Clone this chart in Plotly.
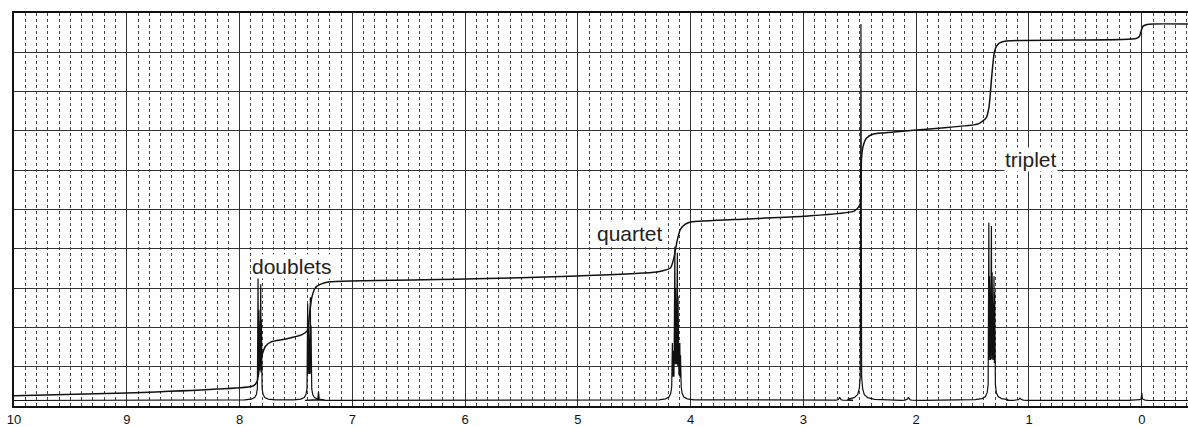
import plotly.graph_objects as go

# ---- spectrum data (chemical shift in ppm, intensity in chart-grid units) ----
baseline = 0.14

# individual resonance lines of each multiplet (ppm, peak height)
doublet_a_ppm = [7.836, 7.830, 7.812, 7.806]
doublet_a_int = [3.33, 2.45, 3.10, 2.20]

doublet_b_ppm = [7.396, 7.390, 7.372, 7.366]
doublet_b_int = [2.60, 2.00, 2.77, 2.05]

aromatic_small_ppm = [7.300]
aromatic_small_int = [0.36]

quartet_ppm = [4.162, 4.156, 4.140, 4.134, 4.118, 4.112, 4.096, 4.090]
quartet_int = [1.60, 1.40, 4.05, 3.00, 3.90, 2.80, 1.60, 1.30]

impurity_ppm = [2.68, 2.07, 1.08]
impurity_int = [0.22, 0.22, 0.20]

singlet_ppm = [2.490]
singlet_int = [9.72]

triplet_ppm = [1.356, 1.350, 1.333, 1.327, 1.310, 1.304]
triplet_int = [4.66, 3.30, 4.58, 3.40, 3.30, 2.90]

tms_ppm = [0.000]
tms_int = [0.33]

# foot height (broad line wings) under each multiplet
foot_doublet_a = 0.30
foot_doublet_b = 0.30
foot_quartet = 0.35
foot_singlet = 0.60
foot_triplet = 0.40
foot_small = 0.04

# ---- running integral trace ----
integral_ppm = [10.0, 9.0, 8.2, 7.88, 7.845, 7.825, 7.80, 7.77, 7.72, 7.6, 7.45,
                7.40, 7.385, 7.36, 7.33, 7.28, 7.2, 6.0, 5.0, 4.3, 4.18, 4.15,
                4.12, 4.09, 4.05, 4.0, 3.5, 3.0, 2.55, 2.50, 2.49, 2.485, 2.47,
                2.44, 2.38, 2.2, 1.8, 1.45, 1.38, 1.355, 1.33, 1.31, 1.29, 1.26,
                1.2, 0.6, 0.05, 0.02, 0.005, -0.01, -0.04, -0.1, -0.41]
integral_val = [0.26, 0.33, 0.43, 0.51, 0.62, 0.95, 1.30, 1.52, 1.63, 1.70, 1.81,
                1.91, 2.20, 2.75, 3.00, 3.10, 3.16, 3.23, 3.31, 3.41, 3.51, 3.75,
                4.20, 4.50, 4.62, 4.68, 4.76, 4.83, 4.96, 5.11, 5.40, 6.30, 6.62,
                6.82, 6.92, 6.97, 7.07, 7.18, 7.33, 7.60, 8.40, 8.95, 9.15, 9.24,
                9.29, 9.31, 9.35, 9.41, 9.55, 9.66, 9.70, 9.72, 9.72]

# axis tick labels
tick_vals = [10, 9, 8, 7, 6, 5, 4, 3, 2, 1, 0]
tick_text = ["10", "9", "8", "7", "6", "5", "4", "3", "2", "1", "0"]

# multiplet labels
label_text = ["doublets", "quartet", "triplet"]
label_ppm = [7.535, 4.54, 0.985]
label_y = [3.56, 4.40, 6.26]

# wing profile of a line: (ppm offset from outer line, fraction of foot height)
WING = [(0.12, 0.05), (0.06, 0.12), (0.03, 0.25), (0.015, 0.5), (0.006, 1.0)]


def multiplet_path(ppm, heights, foot):
    """Vertices of one multiplet drawn as thin spikes standing on broad wings."""
    order = sorted(range(len(ppm)), key=lambda i: -ppm[i])
    p = [ppm[i] for i in order]
    h = [heights[i] for i in order]
    xs, ys = [], []
    for d, f in WING:
        xs.append(p[0] + d)
        ys.append(baseline + f * foot)
    for k in range(len(p)):
        xs.append(p[k])
        ys.append(h[k])
        if k < len(p) - 1:
            xs.append((p[k] + p[k + 1]) / 2)
            ys.append(baseline + foot + 0.2 * (min(h[k], h[k + 1]) - baseline))
    for d, f in reversed(WING):
        xs.append(p[-1] - d)
        ys.append(baseline + f * foot)
    return xs, ys


groups = [
    (doublet_a_ppm, doublet_a_int, foot_doublet_a),
    (doublet_b_ppm, doublet_b_int, foot_doublet_b),
    (aromatic_small_ppm, aromatic_small_int, foot_small),
    (quartet_ppm, quartet_int, foot_quartet),
    (impurity_ppm[:1], impurity_int[:1], foot_small),
    (singlet_ppm, singlet_int, foot_singlet),
    (impurity_ppm[1:2], impurity_int[1:2], foot_small),
    (triplet_ppm, triplet_int, foot_triplet),
    (impurity_ppm[2:], impurity_int[2:], foot_small),
    (tms_ppm, tms_int, foot_small),
]

spec_x, spec_y = [10.0], [baseline]
for g_ppm, g_int, g_foot in groups:
    gx, gy = multiplet_path(g_ppm, g_int, g_foot)
    spec_x += gx
    spec_y += gy
spec_x.append(-0.41)
spec_y.append(baseline)

fig = go.Figure()
fig.add_trace(go.Scatter(x=spec_x, y=spec_y, mode="lines",
                         line=dict(color="#111111", width=1.2),
                         hoverinfo="skip"))
fig.add_trace(go.Scatter(x=integral_ppm, y=integral_val, mode="lines",
                         line=dict(color="#111111", width=1.5, shape="spline",
                                   smoothing=0.6),
                         hoverinfo="skip"))

for txt, xp, yp in zip(label_text, label_ppm, label_y):
    fig.add_annotation(x=xp, y=yp, text=txt, showarrow=False,
                       font=dict(family="Liberation Sans, Arial, sans-serif",
                                 size=21, color="#222222"),
                       bgcolor="white", borderpad=0)

fig.update_layout(
    width=1188, height=427,
    margin=dict(l=14, r=0, t=13, b=21),
    plot_bgcolor="white", paper_bgcolor="white",
    showlegend=False,
)
fig.update_xaxes(
    range=[10, -0.41],
    tickmode="array", tickvals=tick_vals, ticktext=tick_text,
    ticks="", showgrid=True, gridcolor="#333333", gridwidth=1,
    minor=dict(tick0=0, dtick=0.1, showgrid=True, griddash="dot",
               gridcolor="#444444", gridwidth=1, ticks=""),
    showline=True, linecolor="#111111", linewidth=2, mirror=True,
    zeroline=False,
    tickfont=dict(family="Liberation Sans, Arial, sans-serif", size=13,
                  color="#111111"),
)
fig.update_yaxes(
    range=[0, 10], tickmode="linear", tick0=0, dtick=1,
    showticklabels=False, ticks="",
    showgrid=True, gridcolor="#333333", gridwidth=1,
    showline=True, linecolor="#111111", linewidth=2, mirror=False,
    zeroline=False,
)

fig.write_html("out.html")
